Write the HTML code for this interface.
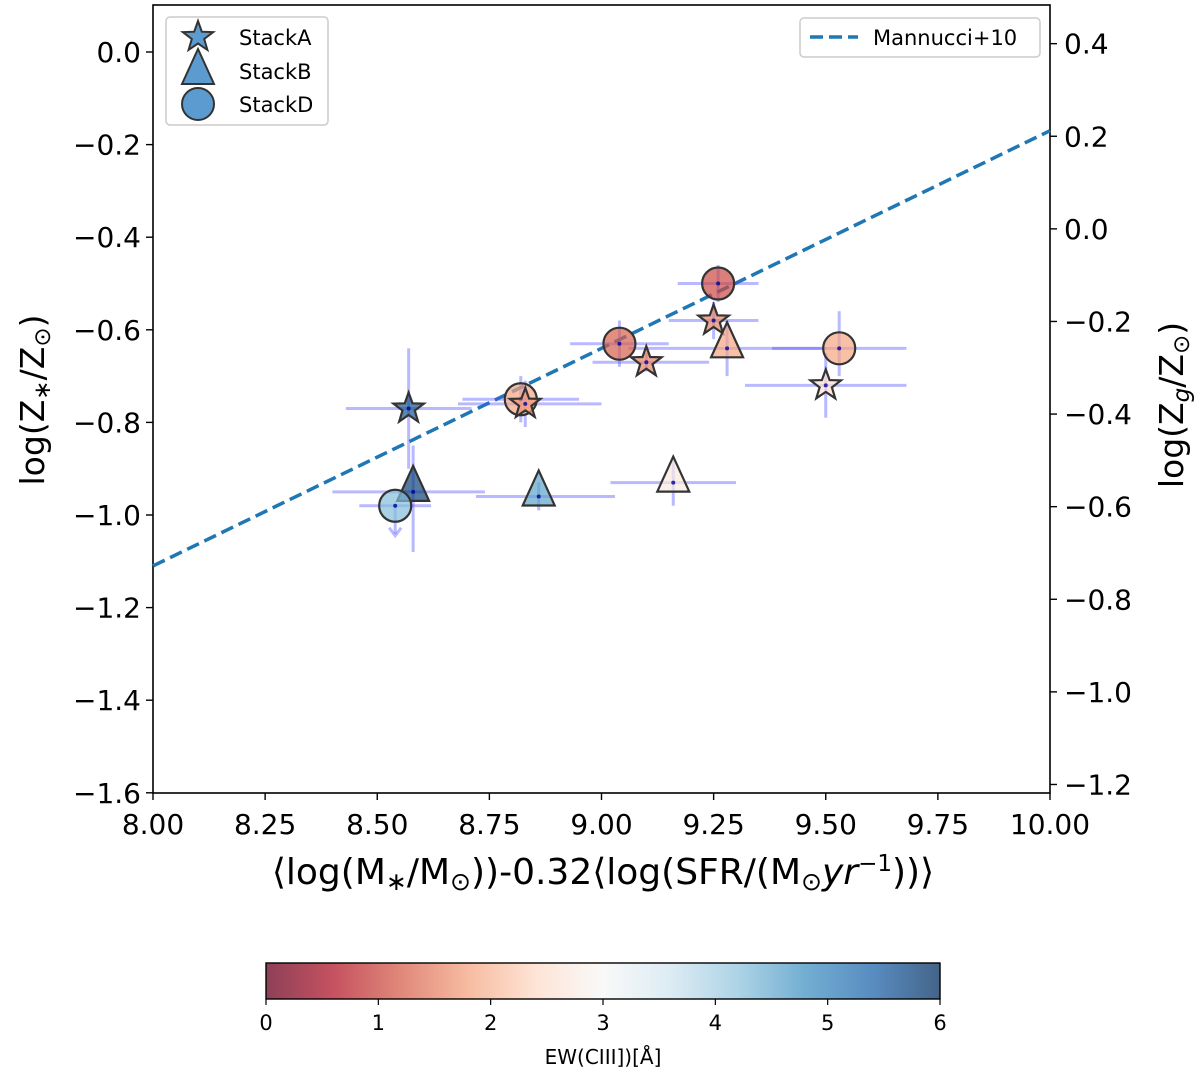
<!DOCTYPE html>
<html><head><meta charset="utf-8"><style>
body{margin:0;background:#fff;}
svg text{font-family:"DejaVu Sans","Liberation Sans",sans-serif;fill:#000;}
</style></head><body>
<svg id="chart" width="1200" height="1076" viewBox="0 0 1200 1076" xmlns="http://www.w3.org/2000/svg">
<defs>
<linearGradient id="rdbu" x1="0" x2="1" y1="0" y2="0">
<stop offset="0" stop-color="#67001f"/><stop offset="0.1" stop-color="#b2182b"/><stop offset="0.2" stop-color="#d6604d"/><stop offset="0.3" stop-color="#f4a582"/><stop offset="0.4" stop-color="#fddbc7"/><stop offset="0.5" stop-color="#f7f7f7"/><stop offset="0.6" stop-color="#d1e5f0"/><stop offset="0.7" stop-color="#92c5de"/><stop offset="0.8" stop-color="#4393c3"/><stop offset="0.9" stop-color="#2166ac"/><stop offset="1" stop-color="#053061"/>
</linearGradient>
</defs>
<g id="axes"></g>
<g id="marks"></g>
<g id="legend"></g>
</svg>
<script>
const xs = [8.57, 8.58, 8.54, 8.82, 8.83, 8.86, 9.04, 9.10, 9.26, 9.25, 9.28, 9.53, 9.50, 9.16];
const ys = [-0.77, -0.95, -0.98, -0.75, -0.76, -0.96, -0.63, -0.67, -0.50, -0.58, -0.64, -0.64, -0.72, -0.93];
const shapes = ['star','tri','circ','circ','star','tri','circ','star','circ','star','tri','circ','star','tri'];
const ew = [5.6, 5.8, 4.3, 1.8, 1.7, 4.6, 1.2, 1.5, 1.0, 1.5, 1.8, 1.8, 2.5, 2.7];
const xerrLo = [0.14, 0.18, 0.08, 0.13, 0.15, 0.14, 0.11, 0.12, 0.09, 0.10, 0.22, 0.15, 0.18, 0.14];
const xerrHi = [0.14, 0.16, 0.08, 0.13, 0.17, 0.17, 0.11, 0.14, 0.09, 0.10, 0.22, 0.15, 0.18, 0.14];
const yerrLo = [0.13, 0.13, 0.06, 0.05, 0.05, 0.03, 0.05, 0.02, 0.04, 0.04, 0.06, 0.06, 0.07, 0.05];
const yerrHi = [0.13, 0.10, 0.0, 0.05, 0.05, 0.03, 0.05, 0.02, 0.04, 0.04, 0.06, 0.08, 0.07, 0.05];
const upperLimit = [false,false,true,false,false,false,false,false,false,false,false,false,false,false];
const xTicks = [8.00, 8.25, 8.50, 8.75, 9.00, 9.25, 9.50, 9.75, 10.00];
const yTicks = [0.0, -0.2, -0.4, -0.6, -0.8, -1.0, -1.2, -1.4, -1.6];
const yRightTicks = [0.4, 0.2, 0.0, -0.2, -0.4, -0.6, -0.8, -1.0, -1.2];
const cbTicks = [0, 1, 2, 3, 4, 5, 6];
const mannucciX = [8.0, 10.0];
const mannucciY = [-1.11, -0.17];

const NS='http://www.w3.org/2000/svg';
const X0=153,X1=1050,Y0=5,Y1=793;
const sx=v=>X0+(v-8)*(X1-X0)/2;
const sy=v=>52-v*463;
const syR=v=>sy(v-0.382);
function mk(tag,at,parent){const e=document.createElementNS(NS,tag);for(const k in at)e.setAttribute(k,at[k]);parent.appendChild(e);return e;}
const axes=document.getElementById('axes'),marks=document.getElementById('marks'),legend=document.getElementById('legend');
const stops=['#67001f','#b2182b','#d6604d','#f4a582','#fddbc7','#f7f7f7','#d1e5f0','#92c5de','#4393c3','#2166ac','#053061'];
function hex(h){return [1,3,5].map(i=>parseInt(h.substr(i,2),16));}
function cmap(v){let t=Math.max(0,Math.min(1,v/6))*10;let i=Math.min(9,Math.floor(t));let f=t-i;const a=hex(stops[i]),b=hex(stops[i+1]);return 'rgb('+a.map((c,k)=>Math.round(c+(b[k]-c)*f)).join(',')+')';}

let fr=mk('rect',{x:X0,y:Y0,width:X1-X0,height:Y1-Y0,fill:'none',stroke:'#000','stroke-width':1.6},axes);

xTicks.forEach(t=>{
  const l=mk('line',{x1:sx(t),x2:sx(t),y1:Y1,y2:Y1+7,stroke:'#000','stroke-width':1.4},axes);
  
  const tx=mk('text',{x:sx(t),y:Y1+41,'font-size':28,'text-anchor':'middle'},axes);tx.textContent=t.toFixed(2);
  
});
yTicks.forEach(t=>{
  const l=mk('line',{x1:X0-7,x2:X0,y1:sy(t),y2:sy(t),stroke:'#000','stroke-width':1.4},axes);
  
  const tx=mk('text',{x:X0-12,y:sy(t)+10,'font-size':28,'text-anchor':'end'},axes);tx.textContent=(t===0?'0.0':t.toFixed(1).replace('-','\u2212'));
  
});
yRightTicks.forEach(t=>{
  const l=mk('line',{x1:X1,x2:X1+7,y1:syR(t),y2:syR(t),stroke:'#000','stroke-width':1.4},axes);
  
  const tx=mk('text',{x:X1+14,y:syR(t)+10,'font-size':28,'text-anchor':'start'},axes);tx.textContent=(t===0?'0.0':t.toFixed(1).replace('-','\u2212'));
  
});
let xl=mk('text',{x:603,y:884,'font-size':36,'text-anchor':'middle'},axes);
xl.innerHTML='⟨log(M<tspan font-size="25" dy="6">∗</tspan><tspan dy="-6">/M</tspan><tspan font-size="25" dy="6">⊙</tspan><tspan dy="-6">))-0.32⟨log(SFR/(M</tspan><tspan font-size="25" dy="6">⊙</tspan><tspan dy="-6" font-style="italic">yr</tspan><tspan font-size="23" dy="-13">−1</tspan><tspan dy="13">))⟩</tspan>';

let yl=mk('text',{x:0,y:0,'font-size':33,'text-anchor':'middle',transform:'translate(44,400) rotate(-90)'},axes);
yl.innerHTML='log(Z<tspan font-size="23" dy="6">∗</tspan><tspan dy="-6">/Z</tspan><tspan font-size="23" dy="6">⊙</tspan><tspan dy="-6">)</tspan>';

let yr=mk('text',{x:0,y:0,'font-size':33,'text-anchor':'middle',transform:'translate(1183,405) rotate(-90)'},axes);
yr.innerHTML='log(Z<tspan font-size="23" dy="6" font-style="italic">g</tspan><tspan dy="-6">/Z</tspan><tspan font-size="23" dy="6">⊙</tspan><tspan dy="-6">)</tspan>';


let ml=mk('line',{x1:sx(mannucciX[0]),y1:sy(mannucciY[0]),x2:sx(mannucciX[1]),y2:sy(mannucciY[1]),stroke:'#1f77b4','stroke-width':3.5,'stroke-dasharray':'13,6'},marks);


function shapePath(s,cx,cy){
  if(s==='circ') return {tag:'circle',at:{cx:cx,cy:cy,r:16}};
  if(s==='tri') return {tag:'polygon',at:{points:`${cx},${cy-26} ${cx-16},${cy+9} ${cx+16},${cy+9}`}};
  let p=[];for(let i=0;i<10;i++){const r=i%2?6.5:16;const a=-Math.PI/2+i*Math.PI/5;p.push((cx+r*Math.cos(a)).toFixed(1)+','+(cy+r*Math.sin(a)).toFixed(1));}
  return {tag:'polygon',at:{points:p.join(' ')}};
}
xs.forEach((v,i)=>{
  const cx=sx(v),cy=sy(ys[i]);
  const h=mk('line',{x1:sx(v-xerrLo[i]),x2:sx(v+xerrHi[i]),y1:cy,y2:cy,stroke:'rgba(80,80,255,0.4)','stroke-width':3},marks);
  
  if(upperLimit[i]){
    const v2=mk('line',{x1:cx,x2:cx,y1:cy,y2:cy+28,stroke:'rgba(80,80,255,0.4)','stroke-width':3},marks);
    
    const ar=mk('polyline',{points:`${cx-6},${cy+22} ${cx},${cy+30} ${cx+6},${cy+22}`,fill:'none',stroke:'rgba(80,80,255,0.4)','stroke-width':3},marks);
    
  } else {
    const vv=mk('line',{x1:cx,x2:cx,y1:sy(ys[i]+yerrHi[i]),y2:sy(ys[i]-yerrLo[i]),stroke:'rgba(80,80,255,0.4)','stroke-width':3},marks);
    
  }
});
xs.forEach((v,i)=>{
  const cx=sx(v),cy=sy(ys[i]);const s=shapePath(shapes[i],cx,cy);
  s.at.fill=cmap(ew[i]);s.at['fill-opacity']=0.7;s.at.stroke='#333';s.at['stroke-width']=2.2;
  const e=mk(s.tag,s.at,marks);
  
  const d=mk('circle',{cx:cx,cy:cy,r:2,fill:'rgba(0,0,150,0.8)'},marks);
  
});

let lb=mk('rect',{x:166,y:17,width:162,height:108,rx:4,fill:'#fff',stroke:'#ccc','stroke-width':1.5},legend);

[['star','StackA',37],['tri','StackB',71],['circ','StackD',104]].forEach(([s,t,y])=>{
  const p=shapePath(s,198,y+(s==='tri'?4:0));p.at.fill='#5b9bd0';p.at.stroke='#333';p.at['stroke-width']=2;
  const e=mk(p.tag,p.at,legend);
  const tx=mk('text',{x:239,y:y+8,'font-size':21},legend);tx.textContent=t;
  
});
let lb2=mk('rect',{x:800,y:18,width:240,height:39,rx:4,fill:'#fff',stroke:'#ccc','stroke-width':1.5},legend);

let ll=mk('line',{x1:810,x2:858,y1:37,y2:37,stroke:'#1f77b4','stroke-width':3.5,'stroke-dasharray':'13,6'},legend);

let lt=mk('text',{x:873,y:45,'font-size':21},legend);lt.textContent='Mannucci+10';


const CB0=266,CB1=940;
let cb=mk('rect',{x:CB0,y:963,width:CB1-CB0,height:36,fill:'url(#rdbu)','fill-opacity':0.75,stroke:'#000','stroke-width':1.4},legend);

cbTicks.forEach(t=>{
  const x=CB0+t/6*(CB1-CB0);
  const l=mk('line',{x1:x,x2:x,y1:999,y2:1005,stroke:'#000','stroke-width':1.2},legend);
  
  const tx=mk('text',{x:x,y:1030,'font-size':21,'text-anchor':'middle'},legend);tx.textContent=t;
  
});
let ct=mk('text',{x:603,y:1064,'font-size':20,'text-anchor':'middle'},legend);ct.textContent='EW(CIII])[Å]';

</script>
</body></html>
